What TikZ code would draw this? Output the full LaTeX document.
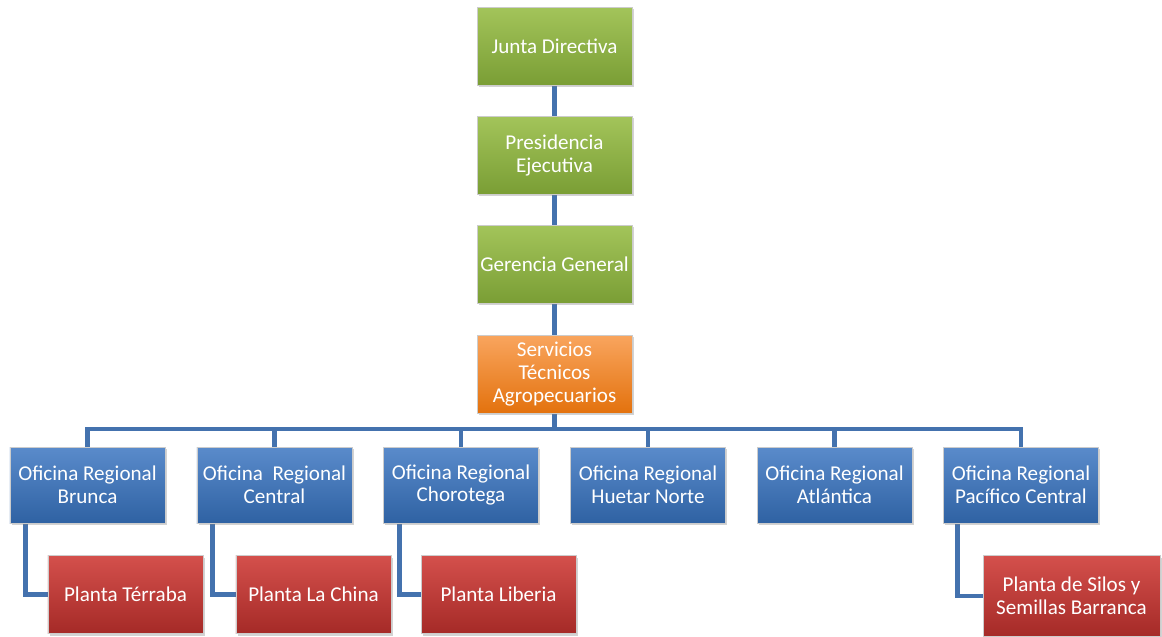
\documentclass[tikz,border=0pt]{standalone}
\usepackage{fontspec}
\setmainfont{Carlito}
\usetikzlibrary{shadows,backgrounds}
\definecolor{verdeA}{HTML}{A3C45A}
\definecolor{verdeB}{HTML}{7A9E35}
\definecolor{naranjaA}{HTML}{F9A55E}
\definecolor{naranjaB}{HTML}{E3720E}
\definecolor{azulA}{HTML}{5A8BCB}
\definecolor{azulB}{HTML}{2F62A3}
\definecolor{rojoA}{HTML}{D4504C}
\definecolor{rojoB}{HTML}{A52A27}
\definecolor{linea}{HTML}{4472AE}

\begin{document}
\begin{tikzpicture}[x=0.03cm,y=-0.03cm,
  caja/.style={draw=white!80!black,line width=0.4pt,align=center,text=white,
    font=\fontsize{18}{19.6}\selectfont,minimum width=4.65cm,minimum height=2.34cm,
    inner sep=2pt,drop shadow={shadow xshift=1.5pt,shadow yshift=-2pt,opacity=0.35}},
  junta/.style={caja,top color=verdeA,bottom color=verdeB},
  servicio/.style={caja,top color=naranjaA,bottom color=naranjaB},
  oficina/.style={caja,top color=azulA,bottom color=azulB,minimum height=2.28cm},
  planta/.style={caja,top color=rojoA,bottom color=rojoB},
  link/.style={draw=linea,line width=4.2pt}]
\useasboundingbox (0,0) rectangle (1162,636);
%%%%%%%%%%%%%%%%%%%%%%%%%%%%%%%%
%% direccion
%%%%%%%%%%%%%%%%%%%%%%%%%%%%%%%%
\node[junta] (jd) at (554.5,46) {Junta Directiva};
\node[junta] (pe) at (554.5,155) {Presidencia\\Ejecutiva};
\node[junta] (gg) at (554.5,264) {Gerencia General};
\node[servicio] (sta) at (554.5,374) {Servicios\\T\'ecnicos\\Agropecuarios};
%%%%%%%%%%%%%%%%%%%%%%%%%%%%%%%%
%% oficinas regionales
%%%%%%%%%%%%%%%%%%%%%%%%%%%%%%%%
\node[oficina] (o1) at (87.5,485) {Oficina Regional\\Brunca};
\node[oficina] (o2) at (274.5,485) {Oficina\ \ Regional\\Central};
\node[oficina] (o3) at (461,485) {Oficina Regional\\Chorotega};
\node[oficina] (o4) at (648,485) {Oficina Regional\\Huetar Norte};
\node[oficina] (o5) at (834.5,485) {Oficina Regional\\Atl\'antica};
\node[oficina] (o6) at (1021,485) {Oficina Regional\\Pac\'ifico Central};
%%%%%%%%%%%%%%%%%%%%%%%%%%%%%%%%
%% plantas
%%%%%%%%%%%%%%%%%%%%%%%%%%%%%%%%
\node[planta] (p1) at (125.5,594.5) {Planta T\'erraba};
\node[planta] (p2) at (313.5,594.5) {Planta La China};
\node[planta] (p3) at (498.5,594.5) {Planta Liberia};
\node[planta,minimum width=5.31cm,minimum height=2.43cm] (p6) at (1071.5,596) {Planta de Silos y\\Semillas Barranca};
%%%%%%%%%%%%%%%%%%%%%%%%%%%%%%%%
%% conectores
%%%%%%%%%%%%%%%%%%%%%%%%%%%%%%%%
\coordinate (bus) at (554.5,429);
\begin{pgfonlayer}{background}
\draw[link] (jd) -- (pe);
\draw[link] (pe) -- (gg);
\draw[link] (gg) -- (sta);
\draw[link] (sta) -- (bus);
\foreach \i in {1,...,6}
  \draw[link] (bus) -| (o\i.north);
\draw[link] ([xshift=0.48cm]o1.south west) |- (p1.west);
\draw[link] ([xshift=0.48cm]o2.south west) |- (p2.west);
\draw[link] ([xshift=0.48cm]o3.south west) |- (p3.west);
\draw[link] ([xshift=0.42cm]o6.south west) |- (p6.west);
\end{pgfonlayer}
\end{tikzpicture}
\end{document}
